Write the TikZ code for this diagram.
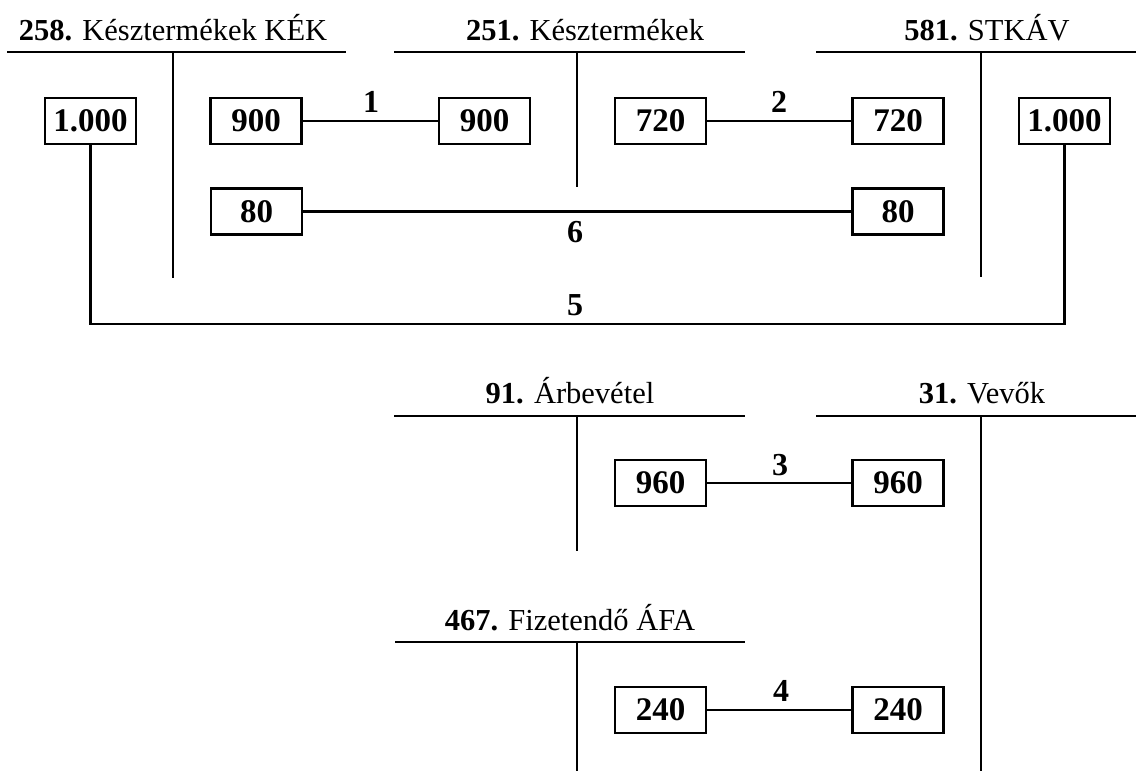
\documentclass[tikz,border=0pt]{standalone}
\usepackage{fontspec}
\setmainfont{Liberation Serif}
\begin{document}
\begin{tikzpicture}[x=1pt,y=-1pt,
  line width=2.4pt,
  amount/.style={draw, line width=2.4pt, minimum width=91pt, minimum height=46pt,
    inner sep=0pt, font=\fontsize{33}{33}\selectfont\bfseries},
  acctitle/.style={anchor=base, inner sep=0pt, font=\fontsize{30.5}{30.5}\selectfont},
  entry/.style={anchor=base, inner sep=0pt, font=\fontsize{32}{32}\selectfont\bfseries}]
\useasboundingbox (0,0) rectangle (1136,771);

% T-accounts: titles, top bars and centre lines
\node[acctitle] (t258) at (173,40) {\textbf{258.} Késztermékek KÉK};
\draw (7,52) -- (346,52) (173,52) -- (173,278);
\node[acctitle] (t251) at (585,40) {\textbf{251.} Késztermékek};
\draw (394,52) -- (745,52) (577,52) -- (577,187);
\node[acctitle] (t581) at (987,40) {\textbf{581.} STKÁV};
\draw (816,52) -- (1136,52) (981,52) -- (981,277);
\node[acctitle] (t91) at (570,403) {\textbf{91.} Árbevétel};
\draw (394,416) -- (745,416) (577,416) -- (577,551);
\node[acctitle] (t31) at (982,403) {\textbf{31.} Vevők};
\draw (816,416) -- (1136,416) (981,416) -- (981,771);
\node[acctitle] (t467) at (570,630) {\textbf{467.} Fizetendő ÁFA};
\draw (395,642) -- (745,642) (577,642) -- (577,771);

% amounts
\node[amount] (a1000) at (90.5,121) {1.000};
\node[amount] (a900)  at (256,121)  {900};
\node[amount] (b900)  at (484.5,121) {900};
\node[amount] (b720)  at (660.5,121) {720};
\node[amount] (c720)  at (898,121)  {720};
\node[amount] (c1000) at (1064.5,121) {1.000};
\node[amount] (a80)   at (256.5,211.5) {80};
\node[amount] (c80)   at (898,211.5) {80};
\node[amount] (d960)  at (660.5,483) {960};
\node[amount] (e960)  at (898,483)  {960};
\node[amount] (f240)  at (660.5,710) {240};
\node[amount] (e240)  at (898,710)  {240};

% postings
\draw (a900) -- (b900);
\node[entry] (n1) at (371,112) {1};
\draw (b720) -- (c720);
\node[entry] (n2) at (779,112) {2};
\draw (a80) -- (c80);
\node[entry] (n6) at (575,242) {6};
\coordinate (p5) at (577,324);
\draw (a1000.south) |- (p5) -| (c1000.south);
\node[entry] (n5) at (575,315) {5};
\draw (d960) -- (e960);
\node[entry] (n3) at (780,475) {3};
\draw (f240) -- (e240);
\node[entry] (n4) at (781,701) {4};
\end{tikzpicture}
\end{document}
